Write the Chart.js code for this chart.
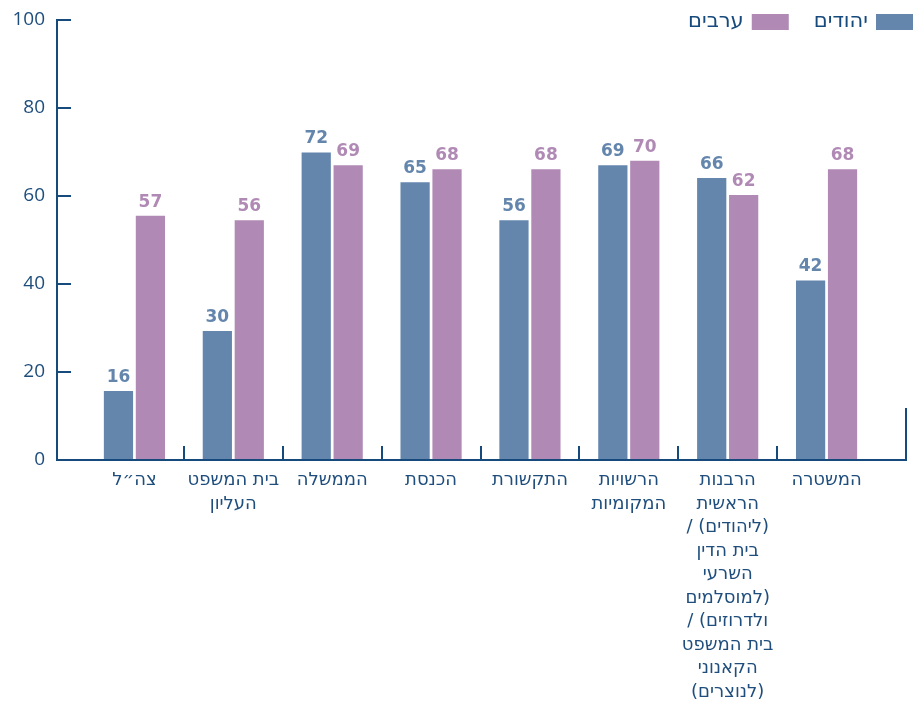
<!DOCTYPE html>
<html lang="he">
<head>
<meta charset="utf-8">
<script src="https://cdn.jsdelivr.net/npm/chart.js@4.4.1/dist/chart.umd.min.js"></script>
<style>
  html, body { margin: 0; padding: 0; background: #ffffff; }
  #wrap { position: relative; width: 913px; height: 703px; }
  canvas { direction: rtl; }
</style>
</head>
<body>
<div id="wrap"><canvas id="c"></canvas></div>
<script>
// ---- data ----
const categories = [
  "צה״ל",
  ["בית המשפט", "העליון"],
  "הממשלה",
  "הכנסת",
  "התקשורת",
  ["הרשויות", "המקומיות"],
  ["הרבנות", "הראשית", "(ליהודים) /", "בית הדין", "השרעי", "(למוסלמים", "ולדרוזים) /", "בית המשפט", "הקאנוני", "(לנוצרים)"],
  "המשטרה"
];
const seriesNames = ["יהודים", "ערבים"];
// bar heights as drawn in the picture
const jewsValues  = [15.7, 29.3, 69.9, 63.1, 54.5, 67.0, 64.1, 40.8];
const arabsValues = [55.5, 54.5, 67.0, 66.1, 66.1, 68.0, 60.2, 66.1];
// printed value labels
const jewsLabels  = [16, 30, 72, 65, 56, 69, 66, 42];
const arabsLabels = [57, 56, 69, 68, 68, 70, 62, 68];
const yTicks = [0, 20, 40, 60, 80, 100];

// ---- style ----
const BLUE = "#6486ad";
const PURPLE = "#b08ab5";
const AXIS = "#174a7c";
const TEXT = "#1f4e7d";
const HEB_FONT = "'DejaVu Sans', sans-serif";

const axesPlugin = {
  id: "customAxes",
  afterDatasetsDraw(chart) {
    const { ctx, chartArea, scales } = chart;
    const x = scales.x, y = scales.y;
    const left = chartArea.left - 28;
    const right = chartArea.right + 30;
    const y0 = y.getPixelForValue(0);
    const yTop = y.getPixelForValue(yTicks[yTicks.length - 1]);
    ctx.save();
    ctx.strokeStyle = AXIS;
    ctx.lineWidth = 2;
    ctx.lineCap = "butt";
    ctx.beginPath();
    ctx.moveTo(left, yTop - 1); ctx.lineTo(left, y0 + 1);
    ctx.moveTo(left - 1, y0); ctx.lineTo(right + 1, y0);
    ctx.moveTo(right, y0 + 1); ctx.lineTo(right, y0 - 52);
    yTicks.forEach(v => {
      const p = y.getPixelForValue(v);
      ctx.moveTo(left, p); ctx.lineTo(left + 14, p);
    });
    for (let i = 1; i < categories.length; i++) {
      const p = Math.round((x.getPixelForValue(i - 1) + x.getPixelForValue(i)) / 2);
      ctx.moveTo(p, y0); ctx.lineTo(p, y0 - 14);
    }
    ctx.stroke();
    ctx.restore();
  }
};

const labelsPlugin = {
  id: "valueLabels",
  afterDatasetsDraw(chart) {
    const { ctx } = chart;
    ctx.save();
    ctx.font = "bold 17px 'DejaVu Sans', sans-serif";
    ctx.textAlign = "center";
    ctx.textBaseline = "alphabetic";
    chart.data.datasets.forEach((ds, di) => {
      const meta = chart.getDatasetMeta(di);
      ctx.fillStyle = ds.backgroundColor;
      meta.data.forEach((bar, i) => {
        ctx.fillText(String(ds.valueLabels[i]), bar.x, bar.y - 9);
      });
    });
    ctx.restore();
  }
};

const legendPlugin = {
  id: "rtlLegend",
  afterDraw(chart) {
    const { ctx } = chart;
    ctx.save();
    ctx.font = "21px " + HEB_FONT;
    ctx.textBaseline = "middle";
    ctx.textAlign = "right";
    let xr = chart.width;
    const cy = 22;
    chart.data.datasets.forEach(ds => {
      ctx.fillStyle = ds.backgroundColor;
      ctx.fillRect(xr - 37, cy - 8, 37, 16);
      const tx = xr - 37 - 8;
      ctx.fillStyle = AXIS;
      ctx.fillText(ds.label, tx, cy);
      const w = ctx.measureText(ds.label).width;
      xr = tx - w - 25;
    });
    ctx.restore();
  }
};

new Chart(document.getElementById("c"), {
  type: "bar",
  data: {
    labels: categories,
    datasets: [
      { label: seriesNames[0], data: jewsValues, valueLabels: jewsLabels, backgroundColor: BLUE,
        categoryPercentage: 0.646, barPercentage: 0.915 },
      { label: seriesNames[1], data: arabsValues, valueLabels: arabsLabels, backgroundColor: PURPLE,
        categoryPercentage: 0.646, barPercentage: 0.915 }
    ]
  },
  options: {
    responsive: true,
    maintainAspectRatio: false,
    animation: false,
    layout: { padding: { top: 20, right: 37, left: 0, bottom: 0 } },
    plugins: { legend: { display: false }, tooltip: { enabled: false } },
    scales: {
      x: {
        type: "category",
        offset: true,
        grid: { display: false, drawTicks: false },
        border: { display: false },
        ticks: {
          autoSkip: false, maxRotation: 0, minRotation: 0,
          color: TEXT, padding: 9,
          font: { family: HEB_FONT, size: 18, lineHeight: "23.5px" }
        },
        afterFit(s) { s.height = 243; }
      },
      y: {
        min: 0, max: 100,
        grid: { display: false, drawTicks: false },
        border: { display: false },
        ticks: {
          stepSize: 20, color: TEXT, padding: 40,
          font: { family: "'Open Sans', sans-serif", size: 19 }
        },
        afterFit(s) { s.width = 85; s.paddingTop = 0; s.paddingBottom = 0; }
      }
    }
  },
  plugins: [axesPlugin, labelsPlugin, legendPlugin]
});
</script>
</body>
</html>
